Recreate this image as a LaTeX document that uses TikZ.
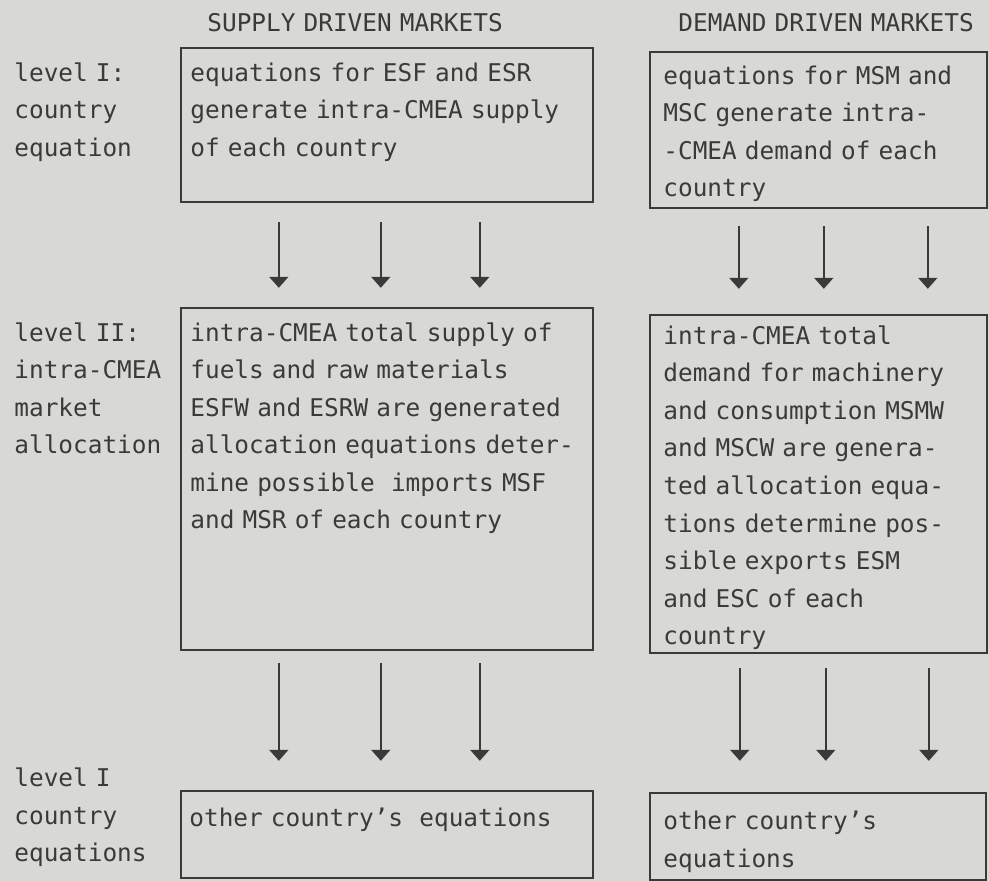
\documentclass[tikz,border=0pt]{standalone}
\usepackage{fontspec}
\newfontfamily\typefont{DejaVu Sans Mono}
\usetikzlibrary{arrows.meta, calc, fit}
\definecolor{paper}{RGB}{216,216,212}
\definecolor{ink}{RGB}{58,58,58}

\begin{document}
\begin{tikzpicture}[x=0.5pt, y=-0.5pt,
font={\typefont\fontsize{12.2pt}{18.75pt}\selectfont},
box/.style={draw=ink, line width=1.2pt, inner sep=0pt},
txt/.style={anchor=base west, inner sep=0pt, text=ink, align=left, text width=#1},
flow/.style={draw=ink, line width=0.9pt, -{Triangle[width=9.5pt, length=5.5pt]}},
]

\path[use as bounding box, fill=paper] (0,0) rectangle (989,881);

% column heads
\node[txt=170pt] (hsup) at (207,32) {SUPPLY DRIVEN MARKETS};
\node[txt=170pt] (hdem) at (678,32) {DEMAND DRIVEN MARKETS};

% levels
\node[txt=85pt] (lev1) at (14,81.5) {level I:\\country\\equation};
\node[txt=85pt] (lev2) at (14,341.5) {level II:\\intra-CMEA\\market\\allocation};
\node[txt=85pt] (lev3) at (14,786.5) {level I\\country\\equations};

% boxes
\node[box, fit={(181,48) (593,202)}] (b1) {};
\node[box, fit={(650,52) (987,208)}] (b2) {};
\node[box, fit={(181,308) (593,650)}] (b3) {};
\node[box, fit={(650,315) (987,653)}] (b4) {};
\node[box, fit={(181,791) (593,878)}] (b5) {};
\node[box, fit={(650,793) (986,880)}] (b6) {};

\node[txt=205pt] (t1) at (190,81.5) {equations for ESF and ESR\\generate intra-CMEA supply\\of each country};
\node[txt=165pt] (t2) at (663,84.5) {equations for MSM and\\MSC generate intra-\\-CMEA demand of each\\country};
\node[txt=205pt] (t3) at (190,341.5) {intra-CMEA total supply of\\fuels and raw materials\\ESFW and ESRW are generated\\allocation equations deter-\\mine possible~~imports MSF\\and MSR of each country};
\node[txt=165pt] (t4) at (663,344.5) {intra-CMEA total\\demand for machinery\\and consumption MSMW\\and MSCW are genera-\\ted allocation equa-\\tions determine pos-\\sible exports ESM\\and ESC of each\\country};
\node[txt=205pt] (t5) at (189,826.5) {other country’s~~equations};
\node[txt=165pt] (t6) at (663,829.5) {other country’s\\equations};

% level I -> level II
\foreach \dx in {99,201,300}
  \draw[flow, shorten <=9.5pt, shorten >=9.5pt] ($(b1.south west)+(\dx,0)$) -- ($(b3.north west)+(\dx,0)$);
\foreach \dx in {90,175,279}
  \draw[flow, shorten <=8.5pt, shorten >=12.5pt] ($(b2.south west)+(\dx,0)$) -- ($(b4.north west)+(\dx,0)$);

% level II -> other countries
\foreach \dx in {99,201,300}
  \draw[flow, shorten <=6pt, shorten >=14.5pt] ($(b3.south west)+(\dx,0)$) -- ($(b5.north west)+(\dx,0)$);
\foreach \dx in {91,177,280}
  \draw[flow, shorten <=7pt, shorten >=15.5pt] ($(b4.south west)+(\dx,0)$) -- ($(b6.north west)+(\dx,0)$);

\end{tikzpicture}
\end{document}
